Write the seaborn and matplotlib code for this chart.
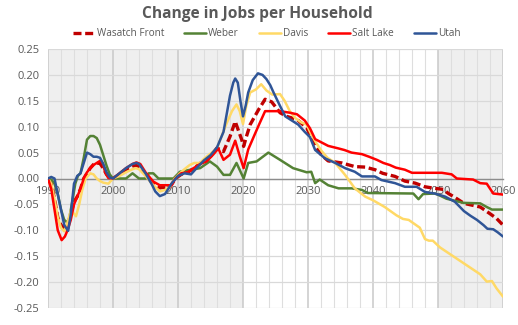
import matplotlib
matplotlib.use("Agg")
import matplotlib.pyplot as plt
import seaborn as sns
import pandas as pd

sns.set_theme(style="white")
plt.rcParams['font.family'] = ['Open Sans', 'DejaVu Sans']

# ---- series: (year, change in jobs per household) ----
wasatch_years = [1990, 1990.5, 1991, 1991.5, 1992, 1992.5, 1993, 1993.5, 1994, 1994.5, 1995, 1995.5,
                 1996, 1996.5, 1997, 1997.5, 1998, 1998.5, 1999, 1999.5, 2000, 2001, 2002, 2003, 2003.6,
                 2004.2, 2005, 2006, 2007.2, 2008.8, 2009.6, 2010.5, 2011.5, 2012.5, 2013.5, 2014.4,
                 2015.2, 2016, 2017, 2018, 2018.8, 2019.8, 2020.1, 2020.5, 2021.1, 2022.4, 2023.4,
                 2024.4, 2025.7, 2026.7, 2028.3, 2029.8, 2031.1, 2032.1, 2033.1, 2035.2, 2037.2,
                 2038.8, 2040.3, 2041.5, 2043.4, 2044.9, 2046.5, 2048, 2049.5, 2050.8, 2051.6,
                 2052.4, 2054, 2056.5, 2058, 2059, 2060]
wasatch_vals = [0.0, -0.01, -0.04, -0.075, -0.09, -0.095, -0.092, -0.07, -0.045, -0.035, -0.02, 0.0,
                0.01, 0.02, 0.027, 0.03, 0.029, 0.02, 0.008, 0.0, 0.0, 0.008, 0.017, 0.024, 0.025,
                0.022, 0.008, -0.008, -0.018, -0.016, 0.0, 0.008, 0.012, 0.02, 0.03, 0.036,
                0.045, 0.059, 0.052, 0.081, 0.11, 0.075, 0.062, 0.08, 0.104, 0.133, 0.153,
                0.148, 0.127, 0.12, 0.114, 0.098, 0.062, 0.045, 0.034, 0.03, 0.023,
                0.022, 0.017, 0.01, 0.004, -0.005, -0.009, -0.016, -0.019, -0.021, -0.029,
                -0.035, -0.048, -0.055, -0.068, -0.077, -0.09]

weber_years = [1990, 1990.5, 1991, 1991.5, 1992, 1992.5, 1993, 1993.3, 1993.8, 1994.2, 1994.6, 1995,
               1995.5, 1996, 1996.5, 1997, 1997.5, 1998, 1998.5, 1999, 1999.5, 2000, 2001, 2002, 2003,
               2004, 2005, 2005.5, 2006.2, 2007, 2009.3, 2010.3, 2011.5, 2013.4, 2014.9, 2016, 2017,
               2018, 2019, 2020.1, 2020.8, 2022.1, 2023.9, 2025.7, 2027.7, 2029.8, 2030.5, 2031.1,
               2031.8, 2033.1, 2034.7, 2036.7, 2038.3, 2039.2, 2046.2, 2047, 2047.7, 2049.5, 2050.3,
               2051.3, 2053.9, 2056.5, 2057.5, 2058.3, 2060]
weber_vals = [0.0, -0.002, -0.01, -0.03, -0.06, -0.08, -0.085, -0.075, -0.04, -0.01, 0.005, 0.01,
              0.04, 0.075, 0.082, 0.082, 0.078, 0.065, 0.045, 0.025, 0.008, 0.0, 0.0, 0.0, 0.01,
              0.0, 0.0, 0.01, 0.01, 0.0, 0.0, 0.013, 0.016, 0.02, 0.033, 0.023, 0.007,
              0.007, 0.03, 0.0, 0.03, 0.033, 0.05, 0.036, 0.02, 0.012, 0.013, -0.009,
              -0.002, -0.013, -0.019, -0.019, -0.022, -0.028, -0.029, -0.04, -0.03, -0.029, -0.033,
              -0.039, -0.047, -0.048, -0.055, -0.06, -0.06]

davis_years = [1990, 1990.5, 1991, 1991.5, 1992, 1992.5, 1993, 1993.5, 1994, 1994.3, 1994.8, 1995.3,
               1995.8, 1996.5, 1997, 1997.5, 1998, 1998.5, 1999.3, 2000, 2001, 2002, 2003, 2003.5,
               2004, 2005, 2006, 2007.2, 2008, 2008.8, 2009.5, 2010.3, 2011, 2011.8, 2012.5, 2013.4,
               2014, 2015, 2016, 2016.5, 2017.5, 2018.3, 2019, 2019.5, 2020, 2020.5, 2021.1, 2022,
               2022.8, 2023.6, 2024.5, 2025.7, 2026.4, 2027.2, 2028, 2029, 2029.8, 2030.5, 2031.3,
               2032.1, 2033, 2034.2, 2035.7, 2037.2, 2038.8, 2040, 2041.8, 2043.6, 2044.6, 2045.5,
               2047.2, 2048, 2048.6, 2049.2, 2050.3, 2053.4, 2056.5, 2057.5, 2058.3, 2059, 2060]
davis_vals = [0.0, -0.01, -0.04, -0.075, -0.095, -0.102, -0.085, -0.062, -0.068, -0.073, -0.05, -0.02,
              0.0, 0.01, 0.008, 0.0, -0.005, -0.008, -0.01, 0.0, 0.005, 0.012, 0.018, 0.02,
              0.018, 0.005, -0.01, -0.025, -0.022, -0.016, 0.0, 0.01, 0.018, 0.026, 0.03, 0.03,
              0.038, 0.048, 0.058, 0.075, 0.107, 0.13, 0.143, 0.13, 0.105, 0.14, 0.166, 0.172,
              0.182, 0.17, 0.162, 0.163, 0.15, 0.13, 0.117, 0.108, 0.104, 0.085, 0.068,
              0.053, 0.04, 0.03, 0.007, -0.019, -0.035, -0.042, -0.055, -0.071, -0.078, -0.08,
              -0.095, -0.117, -0.12, -0.12, -0.133, -0.159, -0.185, -0.199, -0.198, -0.212, -0.228]

saltlake_years = [1990, 1990.5, 1991, 1991.5, 1992.1, 1992.6, 1993, 1993.5, 1994, 1994.5, 1995, 1995.5,
                  1996, 1996.5, 1997, 1997.5, 1998, 1998.4, 1998.8, 1999.3, 2000, 2001, 2002, 2003,
                  2003.6, 2004.2, 2005, 2006.2, 2007.2, 2009, 2009.6, 2010.5, 2011.5, 2012.4, 2013.4,
                  2014.4, 2015.4, 2016.2, 2017, 2018, 2018.8, 2019.5, 2020.1, 2020.8, 2021.8, 2022.5,
                  2023.4, 2025.7, 2027.2, 2028.3, 2029.5, 2030.3, 2031.1, 2033.1, 2034.7, 2035.6,
                  2036.7, 2038.3, 2039.4, 2040.6, 2041.6, 2042.6, 2043.5, 2044.9, 2046, 2050.6, 2052.1,
                  2052.9, 2055.4, 2056.5, 2057.5, 2058.5, 2060]
saltlake_vals = [0.0, -0.02, -0.06, -0.1, -0.119, -0.112, -0.1, -0.08, -0.05, -0.035, -0.02, 0.0,
                 0.012, 0.02, 0.026, 0.03, 0.034, 0.03, 0.012, 0.001, 0.0, 0.01, 0.02, 0.028,
                 0.031, 0.028, 0.012, -0.006, -0.013, -0.013, 0.0, 0.01, 0.012, 0.02, 0.028,
                 0.033, 0.046, 0.058, 0.036, 0.046, 0.073, 0.043, 0.02, 0.056, 0.085, 0.105,
                 0.13, 0.13, 0.127, 0.124, 0.112, 0.097, 0.076, 0.063, 0.058, 0.055,
                 0.05, 0.047, 0.042, 0.036, 0.03, 0.026, 0.021, 0.017, 0.011, 0.011, 0.008,
                 0.0, -0.002, -0.009, -0.01, -0.029, -0.031]

utah_years = [1990, 1990.5, 1991, 1991.5, 1992, 1992.5, 1993.1, 1993.5, 1994, 1994.5, 1995, 1995.5,
              1996, 1996.5, 1997, 1997.5, 1998, 1998.5, 1999, 1999.5, 2000, 2001, 2002, 2003, 2003.6,
              2004, 2005, 2006, 2006.5, 2007.2, 2008, 2009, 2010, 2011, 2012, 2013, 2014, 2015,
              2016, 2016.5, 2017, 2017.5, 2018, 2018.5, 2018.8, 2019.2, 2019.6, 2020, 2020.4,
              2020.8, 2021.5, 2022.3, 2023, 2023.6, 2024.2, 2024.7, 2025.7, 2026.5, 2027.5, 2028.5,
              2029.5, 2030.3, 2031.1, 2032.6, 2034.2, 2035.7, 2037.2, 2038.3, 2040.3, 2041.3,
              2043.4, 2044.9, 2046.7, 2048, 2049.5, 2051.1, 2052.6, 2054, 2055, 2056, 2057,
              2057.6, 2058.5, 2059.2, 2060]
utah_vals = [0.0, 0.003, 0.0, -0.03, -0.06, -0.09, -0.101, -0.07, -0.01, 0.005, 0.01, 0.03,
             0.05, 0.047, 0.042, 0.042, 0.04, 0.028, 0.012, 0.002, 0.0, 0.01, 0.02, 0.028, 0.03,
             0.028, 0.01, -0.012, -0.025, -0.034, -0.03, -0.01, 0.005, 0.01, 0.008, 0.022, 0.035, 0.045,
             0.06, 0.075, 0.09, 0.125, 0.16, 0.185, 0.193, 0.185, 0.15, 0.12, 0.14,
             0.166, 0.19, 0.203, 0.2, 0.192, 0.18, 0.166, 0.14, 0.12, 0.112, 0.104,
             0.09, 0.08, 0.055, 0.039, 0.03, 0.02, 0.013, 0.004, 0.004, -0.003,
             -0.009, -0.016, -0.016, -0.026, -0.029, -0.035, -0.045, -0.063, -0.072, -0.08, -0.09,
             -0.097, -0.098, -0.104, -0.112]

series_names = ["Wasatch Front", "Weber", "Davis", "Salt Lake", "Utah"]
series_years = [wasatch_years, weber_years, davis_years, saltlake_years, utah_years]
series_vals = [wasatch_vals, weber_vals, davis_vals, saltlake_vals, utah_vals]
series_colors = ["#C00000", "#548235", "#FFD966", "#FF0000", "#2F5597"]

y_ticks = [0.25, 0.20, 0.15, 0.10, 0.05, 0.00, -0.05, -0.10, -0.15, -0.20, -0.25]
x_ticks = [1990, 2000, 2010, 2020, 2030, 2040, 2050, 2060]

TXT = "#595959"

fig = plt.figure(figsize=(5.18, 3.25), dpi=100)
fig.patch.set_facecolor("white")
ax = fig.add_axes([48 / 518, 1 - 308 / 325, 455 / 518, 259 / 325])
ax.set_facecolor("white")

# shaded historical and far-horizon bands
ax.axvspan(1990, 2020, color="#efefef", lw=0, zorder=0.1)
ax.axvspan(2050, 2060, color="#efefef", lw=0, zorder=0.1)

for name, yrs, vals, col in zip(series_names, series_years, series_vals, series_colors):
    df = pd.DataFrame({"year": yrs, "value": vals})
    if name == "Wasatch Front":
        sns.lineplot(data=df, x="year", y="value", ax=ax, color=col, lw=2.4,
                     linestyle=(0, (2.4, 1.1)), label=name, zorder=3)
    else:
        sns.lineplot(data=df, x="year", y="value", ax=ax, color=col, lw=1.8,
                     label=name, zorder=3)

handles, labels = ax.get_legend_handles_labels()
if ax.get_legend() is not None:
    ax.get_legend().remove()

ax.set_xlim(1990, 2060)
ax.set_ylim(-0.25, 0.25)
ax.set_xticks(x_ticks)
ax.set_xticks(list(range(1990, 2061, 2)), minor=True)
ax.set_yticks(y_ticks)
ax.set_xticklabels([str(t) for t in x_ticks])
ax.set_yticklabels([f"{t:.2f}" for t in y_ticks])
ax.set_xlabel("")
ax.set_ylabel("")

ax.set_axisbelow(True)
ax.grid(which="major", axis="x", color="#c9c9c9", lw=1.1)
ax.grid(which="minor", axis="x", color="#dedede", lw=0.8)
ax.grid(which="major", axis="y", color="#d9d9d9", lw=0.9)

for s in ["top", "right", "left"]:
    ax.spines[s].set_visible(False)
ax.spines["bottom"].set_position(("data", 0))
ax.spines["bottom"].set_color("#8c8c8c")
ax.spines["bottom"].set_linewidth(1.0)
ax.spines["bottom"].set_zorder(2.5)

ax.tick_params(axis="x", which="major", length=4, width=0.9, color="#8c8c8c",
               direction="out", pad=1.5, labelsize=8, labelcolor=TXT)
ax.tick_params(axis="x", which="minor", length=0)
ax.tick_params(axis="y", length=0, pad=6, labelsize=8, labelcolor=TXT)

fig.text(0.497, 1 - 14 / 325, "Change in Jobs per Household", ha="center", va="center",
         fontsize=11.2, fontweight="bold", color=TXT)

fig.legend(handles, labels, loc="center", bbox_to_anchor=(0.515, 1 - 34 / 325), ncol=5,
           frameon=False, fontsize=7.2, handlelength=2.2, handletextpad=0.2,
           columnspacing=2.0, labelcolor=TXT)

fig.savefig("out.png", dpi=100)
